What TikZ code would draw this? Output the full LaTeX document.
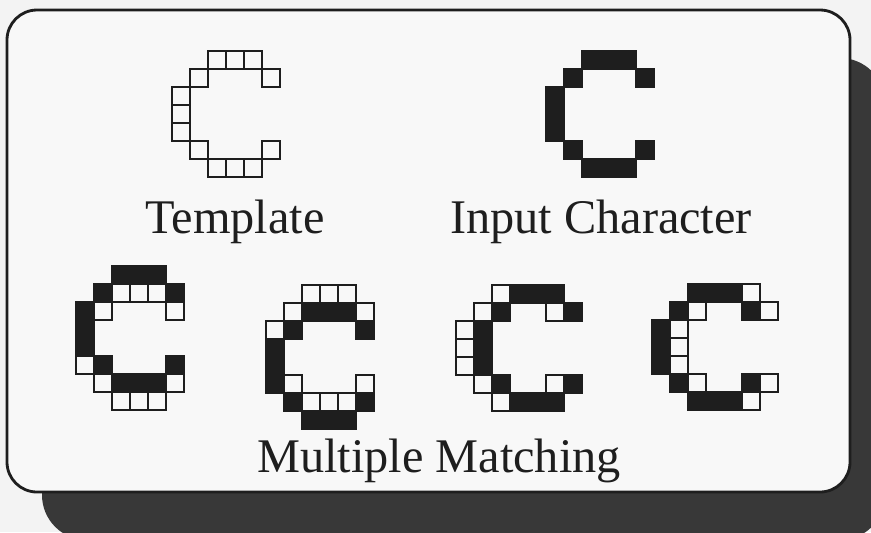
\documentclass[tikz,border=0pt]{standalone}
\usepackage{fontspec}
\setmainfont{Liberation Serif}

\definecolor{paper}{HTML}{F3F3F3}
\definecolor{cardfill}{HTML}{F8F8F8}
\definecolor{shadowgray}{HTML}{383838}
\definecolor{ink}{HTML}{1E1E1E}

% pixel letter C, cells given as column/row, origin in #2,#3
\newcommand{\glyphC}[3]{%
    \foreach \col/\row in {2/0,3/0,4/0,1/1,5/1,0/2,0/3,0/4,1/5,5/5,2/6,3/6,4/6}
        \draw[#1] ({#2+18*\col},{#3+18*\row}) rectangle +(18,18);
}

\begin{document}
\begin{tikzpicture}[
    x=0.02cm, y=-0.02cm,
    card_box/.style={
            draw=ink,
            line width=1.6pt,
            rounded corners=0.6cm,
            fill=cardfill
        },
    shadow_box/.style={
            fill=shadowgray,
            rounded corners=0.9cm
        },
    tmpl_cell/.style={draw=ink, line width=1.1pt, fill=cardfill},
    input_cell/.style={draw=ink, line width=1.1pt, fill=ink},
    label_text/.style={
            anchor=base,
            inner sep=0pt,
            text=ink,
            font=\fontsize{27.5}{31}\selectfont
        },
    ]

    \useasboundingbox[fill=paper] (0,0) rectangle (871,532);
    \clip (0,0) rectangle (871,532);

    % --- Card and shadow ---
    \fill[shadow_box] (42,58) rectangle (885,540);
    \draw[card_box] (7,10) rectangle (850,492);

    % --- Template and input ---
    \glyphC{tmpl_cell}{172}{51}
    \glyphC{input_cell}{546}{51}

    % --- Multiple matching ---
    \glyphC{tmpl_cell}{76}{284}
    \glyphC{input_cell}{76}{266}

    \glyphC{tmpl_cell}{266}{285}
    \glyphC{input_cell}{266}{303}

    \glyphC{tmpl_cell}{456}{285}
    \glyphC{input_cell}{474}{285}

    \glyphC{tmpl_cell}{670}{284}
    \glyphC{input_cell}{652}{284}

    % --- Labels ---
    \node (template_label) [label_text] at (235,233) {Template};
    \node (input_label) [label_text] at (601,233) {Input Character};
    \node (matching_label) [label_text] at (439,472) {Multiple Matching};

\end{tikzpicture}
\end{document}
